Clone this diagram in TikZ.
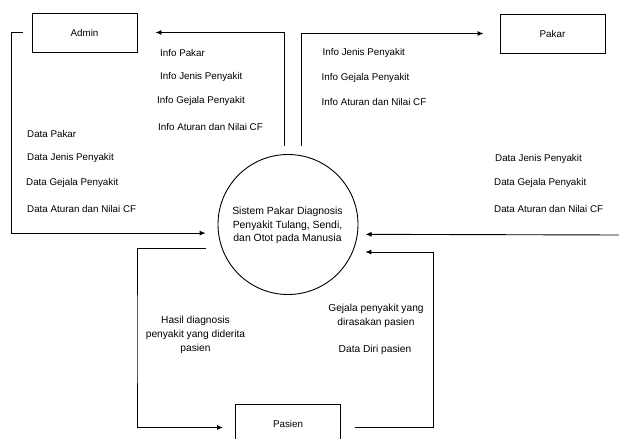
\documentclass[tikz,border=0pt]{standalone}
\usepackage{fontspec}
\setmainfont{Liberation Sans}
\usetikzlibrary{arrows.meta,calc}
\begin{document}
\begin{tikzpicture}[x=1pt,y=-1pt,
  entity/.style={draw,line width=0.9pt,minimum width=105pt,minimum height=39pt,inner sep=0pt,font=\fontsize{9.8}{11}\selectfont},
  proc/.style={draw,circle,line width=0.9pt,minimum size=140pt,inner sep=0pt},
  flow/.style={line width=0.9pt,-{Latex[length=6pt,width=5pt]}},
  lbl/.style={font=\fontsize{9.8}{11}\selectfont,inner sep=0pt,anchor=west},
  clbl/.style={font=\fontsize{10.2}{13.8}\selectfont,inner sep=0pt,align=center}]
\useasboundingbox (0,0) rectangle (619,439);
% entities
\node[entity] (admin) at (84.5,32.5) {Admin};
\node[entity] (pakar) at (552.5,33.5) {Pakar};
\node[entity,minimum height=44pt] (pasien) at (288,426) {};
\node[font=\fontsize{9.8}{11}\selectfont,inner sep=0pt] (pasientext) at (288,424) {Pasien};
% process
\node[proc] (circ) at (288,224.5) {};
\node[clbl,font=\fontsize{10.4}{13.7}\selectfont] (circtext) at (287.5,225.5) {Sistem Pakar Diagnosis\\Penyakit Tulang, Sendi,\\dan Otot pada Manusia};
% free ends
\coordinate (aL) at ([xshift=-9pt]admin.west);
\coordinate (rIn) at (619,235);
\coordinate (pR) at ([xshift=14pt,yshift=-1.5pt]pasien.east);
% connectors
\draw[flow,shorten >=12.5pt] (aL) -- ++(-11,0) |- (circ.187.8);
\draw[flow,shorten <=8.5pt] (circ.93.85) |- ([xshift=18pt]admin.east);
\draw[flow,shorten <=9.5pt] (circ.79.5) |- ([xshift=-16pt]pakar.west);
\draw[flow,shorten >=7.8pt] (rIn) -- (circ.-8.6);
\draw[flow,shorten >=12.5pt] (pR) -- ++(78,0) |- (circ.-23.1);
\draw[flow,shorten <=16pt] (circ.200.5) -| (137,340) |- ([xshift=-12pt,yshift=-1.5pt]pasien.west);
% labels Admin side
\node[lbl] (l1) at (160,52.5) {Info Pakar};
\node[lbl] (l2) at (160,77) {Info Jenis Penyakit};
\node[lbl] (l3) at (157,101) {Info Gejala Penyakit};
\node[lbl] (l4) at (158,126.5) {Info Aturan dan Nilai CF};
\node[lbl] (l5) at (27,134) {Data Pakar};
\node[lbl] (l6) at (27,157.5) {Data Jenis Penyakit};
\node[lbl] (l7) at (26,182.5) {Data Gejala Penyakit};
\node[lbl] (l8) at (27,208.5) {Data Aturan dan Nilai CF};
% labels Pakar side
\node[lbl] (p1) at (322.5,52.5) {Info Jenis Penyakit};
\node[lbl] (p2) at (321.5,77.5) {Info Gejala Penyakit};
\node[lbl] (p3) at (321.5,101.5) {Info Aturan dan Nilai CF};
\node[lbl] (p4) at (495,158.5) {Data Jenis Penyakit};
\node[lbl] (p5) at (494,183) {Data Gejala Penyakit};
\node[lbl] (p6) at (494,208.5) {Data Aturan dan Nilai CF};
% labels Pasien side
\node[clbl] (h1) at (195.5,335) {Hasil diagnosis\\penyakit yang diderita\\pasien};
\node[clbl] (g1) at (376,316) {Gejala penyakit yang\\dirasakan pasien};
\node[clbl] (g2) at (375,350) {Data Diri pasien};
\end{tikzpicture}
\end{document}
